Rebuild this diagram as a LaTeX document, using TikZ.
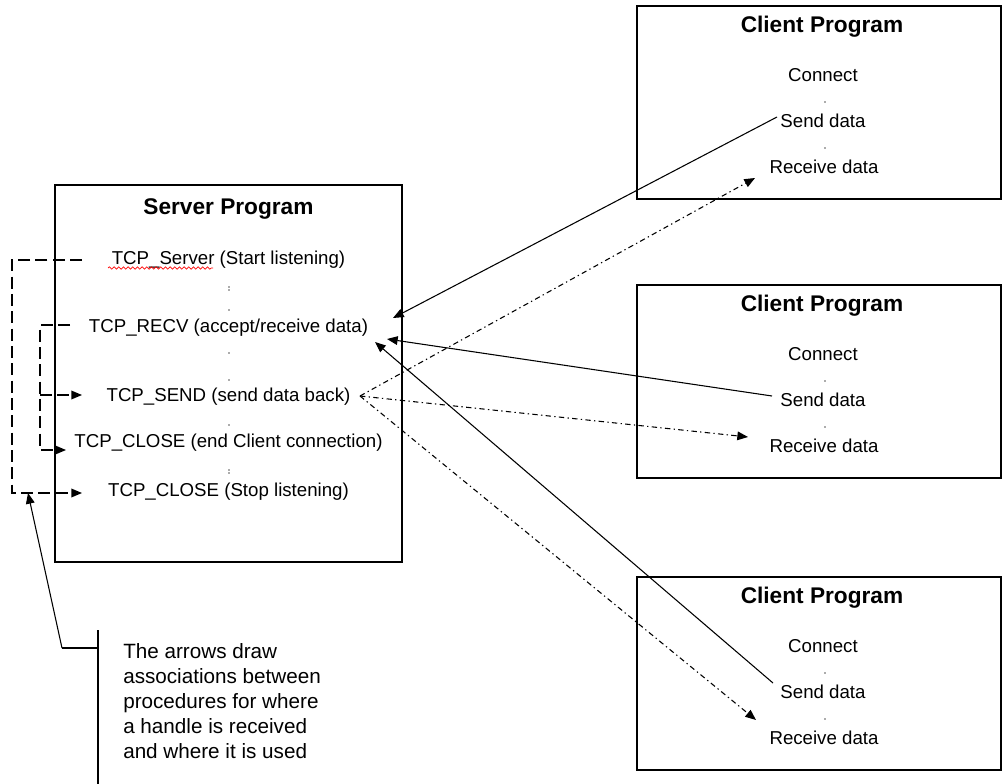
\documentclass[tikz,border=0pt]{standalone}
\usepackage{fontspec}
\setmainfont{Liberation Sans}
\usetikzlibrary{arrows.meta,fit,decorations.pathmorphing}
\begin{document}
\begin{tikzpicture}[x=0.75pt,y=-0.75pt,
  box/.style={draw=black,line width=1.5pt,inner sep=0pt},
  item/.style={inner sep=0pt,font=\fontsize{14}{16}\selectfont},
  ttl/.style={inner sep=0pt,font=\fontsize{17}{20}\selectfont\bfseries},
  note/.style={inner sep=0pt,align=left,anchor=north west,font=\fontsize{15.5}{18.75}\selectfont},
  tip/.style={-{Triangle[length=8pt,width=6.5pt]}},
  solidc/.style={tip,line width=0.8pt},
  dashdotc/.style={tip,line width=0.8pt,dash pattern=on 4pt off 2.5pt on 1pt off 2.5pt},
  leftc/.style={tip,line width=1pt,dash pattern=on 9pt off 4pt},
  dotc/.style={fill=black!65},
]
\useasboundingbox (0,0) rectangle (1003,784);
\fill[white] (0,0) rectangle (1003,784);

% ---------- server box ----------
\node[box,fit={(55,185)(402,562)}] (server) {};
\node[ttl] (stitle) at (228.5,209) {Server Program};
\node[item] (srv) at (228.5,260) {TCP\_Server (Start listening)};
\node[item] (recv) at (228.5,328) {TCP\_RECV (accept/receive data)};
\node[item] (send) at (228.5,397) {TCP\_SEND (send data back)};
\node[item] (close1) at (228.5,443) {TCP\_CLOSE (end Client connection)};
\node[item] (close2) at (228.5,492) {TCP\_CLOSE (Stop listening)};
\draw[red,line width=0.5pt,decorate,decoration={snake,amplitude=0.9pt,segment length=3.5pt}] (108,268) -- (213,268);
\foreach \y in {287,290,310,353,380,425,470,473}
  \fill[dotc] (229,\y) circle (0.9);

% ---------- client boxes ----------
\foreach \i/\t in {1/6,2/285,3/577}{
  \node[box,fit={(637,\t)(1001,\t+193)}] (cbox\i) {};
  \node[ttl] (ctitle\i) at (822,\t+21) {Client Program};
  \node[item] (cconn\i) at (823,\t+69) {Connect};
  \node[item] (csend\i) at (823,\t+115) {Send data};
  \node[item] (crecv\i) at (824,\t+161) {Receive data};
  \fill[dotc] (825,\t+96) circle (0.9);
  \fill[dotc] (825,\t+142) circle (0.9);
}

% ---------- connectors server <-> clients ----------
\coordinate (s1) at (777,117);
\coordinate (t1) at (393,318);
\coordinate (s2) at (772,396);
\coordinate (t2) at (387,339);
\coordinate (s3) at (773,683);
\coordinate (t3) at (375,342);
\coordinate (jn) at (360,396);
\coordinate (r1) at (755,178);
\coordinate (r2) at (748,437);
\coordinate (r3) at (756,720);

\draw[solidc] (s1) -- (t1);
\draw[solidc] (s2) -- (t2);
\draw[solidc] (s3) -- (t3);
\draw[dashdotc] (jn) -- (r1);
\draw[dashdotc] (jn) -- (r2);
\draw[dashdotc] (jn) -- (r3);

% ---------- left handle associations ----------
\coordinate (o1) at (82,260);
\coordinate (o2) at (82,493);
\coordinate (i1) at (70,325);
\coordinate (i2) at (82,395);
\coordinate (i3) at (66,450);
\coordinate (ib) at (40,395);
\draw[leftc] (o1) -| (12,493) -- (o2);
\draw[leftc] (i1) -| (40,450) -- (i3);
\draw[leftc] (ib) -- (i2);

% ---------- note ----------
\coordinate (nt) at (28,493);
\coordinate (nb) at (62,648);
\coordinate (nr) at (98,648);
\draw[solidc] (nb) -- (nt);
\draw[line width=0.8pt] (nb) -- (nr);
\draw[line width=0.8pt] (98,630) -- (98,784);
\node[note] (notetext) at (123,643) {The arrows draw\\associations between\\procedures for where\\a handle is received\\and where it is used};
\end{tikzpicture}
\end{document}
